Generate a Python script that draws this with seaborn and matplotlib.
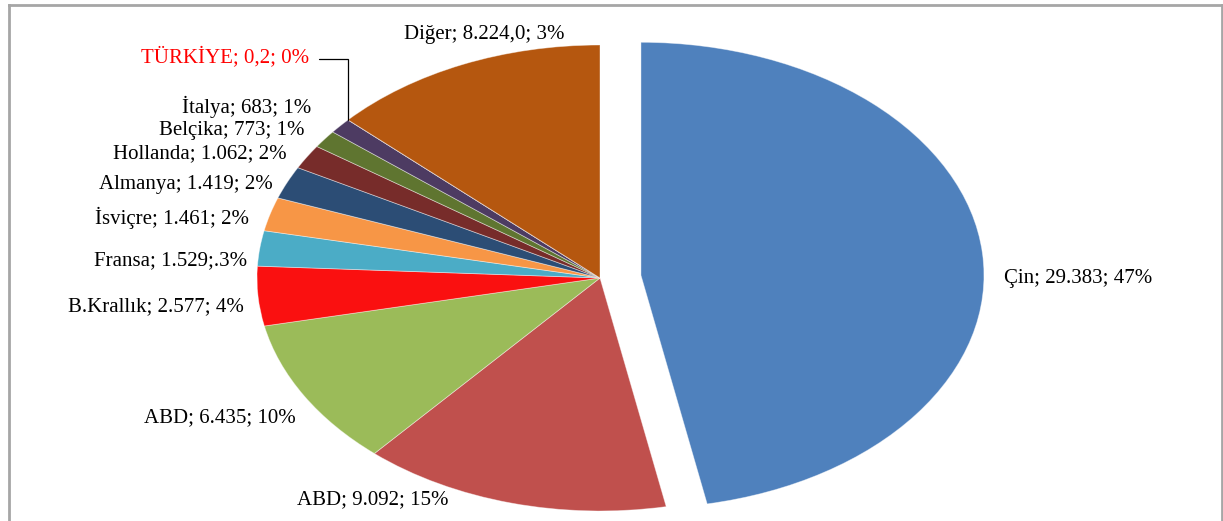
import matplotlib
matplotlib.use("Agg")
import matplotlib.pyplot as plt
import seaborn as sns
import numpy as np
from matplotlib.lines import Line2D

# Export shares by country (value; share)
countries = ["Çin", "ABD", "ABD", "B.Krallık", "Fransa", "İsviçre", "Almanya",
             "Hollanda", "Belçika", "İtalya", "TÜRKİYE", "Diğer"]
values = [29383, 9092, 6435, 2577, 1529, 1461, 1419, 1062, 773, 683, 0.2, 8224]
labels = ["Çin; 29.383; 47%", "ABD; 9.092; 15%", "ABD; 6.435; 10%",
          "B.Krallık; 2.577; 4%", "Fransa; 1.529;.3%", "İsviçre; 1.461; 2%",
          "Almanya; 1.419; 2%", "Hollanda; 1.062; 2%", "Belçika; 773; 1%",
          "İtalya; 683; 1%", "TÜRKİYE; 0,2; 0%", "Diğer; 8.224,0; 3%"]
colors = ["#4F81BD", "#C0504D", "#9BBB59", "#FA1010", "#4BACC6", "#F79646",
          "#2C4D75", "#772C2A", "#5F7530", "#4D3B62", "#276A7C", "#B5570F"]
explode = [0.12] + [0.0] * (len(values) - 1)

sns.set_theme(style="white")
plt.rcParams["font.family"] = ["Liberation Serif", "DejaVu Serif"]

W, H = 1223, 521
fig = plt.figure(figsize=(W / 100, H / 100), dpi=100)
ax = fig.add_axes([0, 0, 1, 1])

# pie centre in pixels and the horizontal/vertical radii of the ellipse
cx, cy, rx, ry = 600, 278, 343, 233

wedges, _ = ax.pie(values, colors=colors, startangle=90, counterclock=False,
                   explode=explode, radius=1.0,
                   wedgeprops=dict(edgecolor=(1, 1, 1, 0.45), linewidth=0.6))
ax.set_aspect("auto")
ax.set_xlim(-cx / rx, (W - cx) / rx)
ax.set_ylim(-(H - cy) / ry, cy / ry)
ax.axis("off")


def px(x, y):
    """Pixel position (from top-left) to data coordinates."""
    return (x - cx) / rx, (cy - y) / ry


# label anchors: (x, y, horizontal alignment)
anchors = [
    (1004, 279, "left"),    # Çin
    (373, 500, "center"),   # ABD 9.092
    (296, 418, "right"),    # ABD 6.435
    (244, 307, "right"),    # B.Krallık
    (247, 261, "right"),    # Fransa
    (249, 218, "right"),    # İsviçre
    (273, 184, "right"),    # Almanya
    (287, 154, "right"),    # Hollanda
    (304, 130, "right"),    # Belçika
    (311, 107, "right"),    # İtalya
    (309, 57, "right"),     # TÜRKİYE
    (484, 34, "center"),    # Diğer
]
for lab, (x, y, ha) in zip(labels, anchors):
    tc = "#FF0000" if lab.startswith("TÜRKİYE") else "black"
    ax.text(*px(x, y), lab, ha=ha, va="center", fontsize=15, color=tc)

# leader line for the tiny TÜRKİYE slice
tw = wedges[countries.index("TÜRKİYE")]
mid = np.deg2rad((tw.theta1 + tw.theta2) / 2)
ex, ey = np.cos(mid), np.sin(mid)
lx, ly = px(319, 59)
ax.plot([lx, ex, ex], [ly, ly, ey], color="black", linewidth=0.9,
        solid_joinstyle="miter")

# chart area frame
border = "#A6A6A6"
for xs, ys in [((9, 9), (5, H + 5)), ((9, 1222), (5, 5)), ((1222, 1222), (5, H + 5))]:
    fig.add_artist(Line2D([x / W for x in xs], [1 - y / H for y in ys],
                          color=border, linewidth=2.0, solid_capstyle="projecting"))

fig.savefig("out.png", dpi=100)
